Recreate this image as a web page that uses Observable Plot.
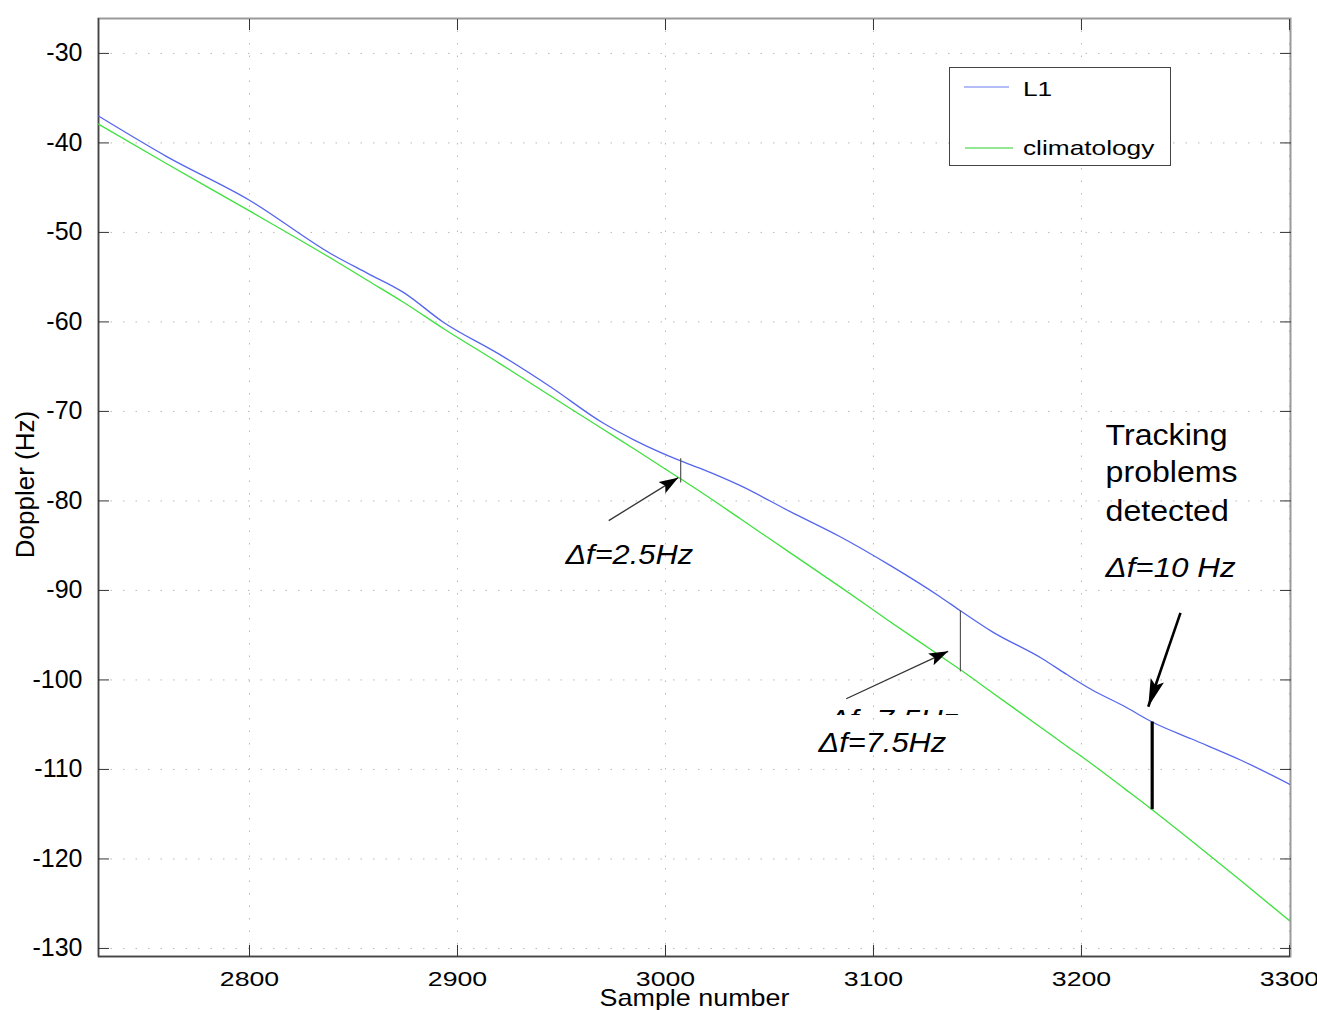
<!DOCTYPE html>
<html>
<head>
<meta charset="utf-8">
<script src="https://cdn.jsdelivr.net/npm/d3@7"></script>
<script src="https://cdn.jsdelivr.net/npm/@observablehq/plot@0.6"></script>
<style>
  body { margin: 0; background: #fff; font-family: "Liberation Sans", Arial, sans-serif; }
  #wrap { position: relative; width: 1317px; height: 1010px; overflow: hidden; }
  #legend { position: absolute; left: 949px; top: 67px; width: 220px; height: 97px; border: 1px solid #444; background: #fff; }
</style>
</head>
<body>
<div id="wrap"></div>
<script>
// ---- data ----
const samples = [2727.4, 2760, 2800, 2840, 2857, 2874, 2893, 2920, 2945, 2970, 2985, 3007, 3017, 3036, 3060, 3084, 3108, 3132, 3142, 3157, 3181, 3193, 3205, 3221, 3234, 3253, 3277, 3300.5];
const l1 = [-37.0, -41.5, -46.4, -52.5, -54.6, -56.7, -60.0, -63.6, -67.3, -71.3, -73.2, -75.5, -76.4, -78.3, -81.2, -84.0, -87.2, -90.7, -92.3, -94.6, -97.6, -99.4, -101.1, -103.0, -104.7, -106.6, -109.0, -111.7];
const climatology = [-37.9, -42.3, -47.6, -53.0, -55.4, -57.8, -60.7, -64.6, -68.3, -72.0, -74.2, -77.5, -79.0, -82.0, -85.8, -89.6, -93.5, -97.3, -98.9, -101.4, -105.4, -107.4, -109.4, -112.2, -114.5, -118.0, -122.5, -127.0];

const xTicks = [2800, 2900, 3000, 3100, 3200, 3300];
const yTicks = [-30, -40, -50, -60, -70, -80, -90, -100, -110, -120, -130];
const xDomain = [2727.4, 3300.5];
const yDomain = [-130.9, -26.1];

// annotations (data coordinates)
const diffX = [3007.3, 3141.8];
const diffTop = [-75.3, -92.3];
const diffBottom = [-78.0, -99.1];
const bigDiffX = [3234.0];
const bigDiffTop = [-104.7];
const bigDiffBottom = [-114.5];

const arrowFromX = [2972.7, 3086.9];
const arrowFromY = [-82.2, -102.1];
const arrowToX = [3006.1, 3135.9];
const arrowToY = [-77.4, -96.8];
const bigArrowFromX = [3247.6];
const bigArrowFromY = [-92.5];
const bigArrowToX = [3232.1];
const bigArrowToY = [-103.0];

const deltaLabels = ["Δf=2.5Hz", "Δf=7.5Hz"];
const deltaLabelX = [2951.9, 3073.6];
const deltaLabelY = [-87.0, -108.1];
const hiddenLabel = ["Δf=7.5Hz"];
const hiddenLabelX = [3078.4];
const hiddenLabelY = [-105.5];

const noteLines = ["Tracking", "problems", "detected"];
const noteX = [3211.6, 3211.6, 3211.6];
const noteY = [-73.8, -77.94, -82.27];
const noteDelta = ["Δf=10 Hz"];
const noteDeltaX = [3211.6];
const noteDeltaY = [-88.5];

// ---- build ----
const W = 1317, H = 1010;
const mL = 98, mR = 27, mT = 18, mB = 54;
const sx = Plot.scale({x: {domain: xDomain, range: [mL, W - mR]}});
const sy = Plot.scale({y: {domain: yDomain, range: [H - mB, mT]}});

const rows = [];
samples.forEach((s, i) => {
  rows.push({sample: s, doppler: l1[i], series: "L1"});
  rows.push({sample: s, doppler: climatology[i], series: "climatology"});
});

function rot(fx, fy, tx, ty) {
  const dx = sx.apply(tx) - sx.apply(fx);
  const dy = sy.apply(ty) - sy.apply(fy);
  return Math.atan2(dx, -dy) * 180 / Math.PI;
}
function head(L, Wd) {
  return {draw(ctx) {
    ctx.moveTo(0, 0);
    ctx.lineTo(Wd / 2, L);
    ctx.lineTo(0, L * 0.8);
    ctx.lineTo(-Wd / 2, L);
    ctx.closePath();
  }};
}
const idx2 = [0, 1];
const rotSmall = idx2.map(i => rot(arrowFromX[i], arrowFromY[i], arrowToX[i], arrowToY[i]));
const rotBig = [rot(bigArrowFromX[0], bigArrowFromY[0], bigArrowToX[0], bigArrowToY[0])];

const fontFamily = "'Liberation Sans', Arial, Helvetica, sans-serif";
// near-black tags used to find text groups after rendering
const C_XT = "#000001", C_SN = "#000002", C_DL = "#000003", C_HID = "#000004", C_NOTE = "#000005", C_ND = "#000006";

const chart = Plot.plot({
  width: W,
  height: H,
  marginLeft: mL, marginRight: mR, marginTop: mT, marginBottom: mB,
  x: {domain: xDomain},
  y: {domain: yDomain},
  style: {fontFamily, background: "#fff", color: "#000", overflow: "visible"},
  marks: [
    Plot.gridX(xTicks, {stroke: "#b8b8b8", strokeOpacity: 1, strokeDasharray: "1.5,11"}),
    Plot.gridY(yTicks, {stroke: "#b8b8b8", strokeOpacity: 1, strokeDasharray: "1.5,11"}),
    Plot.frame({stroke: "#9a9a9a", strokeWidth: 2}),
    Plot.ruleX([xDomain[0]], {stroke: "#444", strokeWidth: 1.5}),
    Plot.ruleY([yDomain[0]], {stroke: "#444", strokeWidth: 1.5}),
    // inward ticks on all sides
    Plot.axisY(yTicks, {anchor: "left", tickSize: -11, text: null, label: null, stroke: "#333"}),
    Plot.axisY(yTicks, {anchor: "right", tickSize: -11, text: null, label: null, stroke: "#333"}),
    Plot.axisX(xTicks, {anchor: "bottom", tickSize: -11, text: null, label: null, stroke: "#333"}),
    Plot.axisX(xTicks, {anchor: "top", tickSize: -11, text: null, label: null, stroke: "#333"}),
    // tick labels
    Plot.axisY(yTicks, {anchor: "left", tickSize: 0, tickPadding: 16, label: null, fontSize: 25, tickFormat: d => `${d}`, fill: "#000"}),
    Plot.axisX(xTicks, {anchor: "bottom", tickSize: 0, tickPadding: 15, label: null, fontSize: 21, tickFormat: d => `${d}`, fill: C_XT}),
    // axis titles
    Plot.text(["Sample number"], {frameAnchor: "bottom", textAnchor: "middle", lineAnchor: "bottom", dy: 49, fontSize: 24, fill: C_SN}),
    Plot.text(["Doppler (Hz)"], {frameAnchor: "left", textAnchor: "middle", lineAnchor: "middle", dx: -73, dy: -3, rotate: -90, fontSize: 26, fill: "#000"}),
    // series
    Plot.line(rows, {x: "sample", y: "doppler", z: "series",
      stroke: d => d.series === "L1" ? "#5566ee" : "#3fe03f",
      strokeWidth: 1.3, curve: "monotone-x", clip: true}),
    // difference markers
    Plot.ruleX(idx2, {x: i => diffX[i], y1: i => diffTop[i], y2: i => diffBottom[i], stroke: "#555", strokeWidth: 1.2}),
    Plot.ruleX([0], {x: i => bigDiffX[i], y1: i => bigDiffTop[i], y2: i => bigDiffBottom[i], stroke: "#000", strokeWidth: 3.2}),
    // arrows
    Plot.link(idx2, {x1: i => arrowFromX[i], y1: i => arrowFromY[i], x2: i => arrowToX[i], y2: i => arrowToY[i], stroke: "#333", strokeWidth: 1.3}),
    Plot.dot(idx2, {x: i => arrowToX[i], y: i => arrowToY[i], rotate: i => rotSmall[i], symbol: head(19, 13), r: 5, fill: "#000", stroke: null}),
    Plot.link([0], {x1: i => bigArrowFromX[i], y1: i => bigArrowFromY[i], x2: i => bigArrowToX[i], y2: i => bigArrowToY[i], stroke: "#000", strokeWidth: 2.6}),
    Plot.dot([0], {x: i => bigArrowToX[i], y: i => bigArrowToY[i], rotate: i => rotBig[i], symbol: head(28, 14), r: 5, fill: "#000", stroke: null}),
    // annotation texts
    Plot.text(idx2, {x: i => deltaLabelX[i], y: i => deltaLabelY[i], text: i => deltaLabels[i], textAnchor: "start", lineAnchor: "bottom", fontSize: 27, fontStyle: "italic", fill: C_DL}),
    Plot.text([0], {x: i => hiddenLabelX[i], y: i => hiddenLabelY[i], text: i => hiddenLabel[i], textAnchor: "start", lineAnchor: "bottom", fontSize: 27, fontStyle: "italic", fill: C_HID}),
    Plot.text([0, 1, 2], {x: i => noteX[i], y: i => noteY[i], text: i => noteLines[i], textAnchor: "start", lineAnchor: "bottom", fontSize: 30, fill: C_NOTE}),
    Plot.text([0], {x: i => noteDeltaX[i], y: i => noteDeltaY[i], text: i => noteDelta[i], textAnchor: "start", lineAnchor: "bottom", fontSize: 28, fontStyle: "italic", fill: C_ND})
  ]
});

const wrap = document.getElementById("wrap");
wrap.appendChild(chart);

const svg = d3.select(chart);
// clip the partly hidden label (only the tops of its glyphs show)
const defs = svg.insert("defs", ":first-child");
defs.append("clipPath").attr("id", "hidden-clip")
  .append("rect").attr("x", 800).attr("y", 690).attr("width", 200).attr("height", 24.5);
svg.selectAll(`g[fill="${C_HID}"]`).attr("clip-path", "url(#hidden-clip)");

// the reference's lettering is a little wider than Liberation Sans
function stretch(sel, k) {
  sel.each(function () {
    const w = this.getComputedTextLength();
    if (w > 0) {
      this.setAttribute("textLength", (w * k).toFixed(1));
      this.setAttribute("lengthAdjust", "spacingAndGlyphs");
    }
  });
}
stretch(svg.selectAll(`g[fill="${C_XT}"] text`), 1.27);
stretch(svg.selectAll(`g[fill="${C_SN}"] text`), 1.12);
stretch(svg.selectAll(`g[fill="${C_DL}"] text`), 1.14);
stretch(svg.selectAll(`g[fill="${C_HID}"] text`), 1.16);
stretch(svg.selectAll(`g[fill="${C_NOTE}"] text`), 1.07);
stretch(svg.selectAll(`g[fill="${C_ND}"] text`), 1.12);

// legend
const legend = document.createElement("div");
legend.id = "legend";
legend.innerHTML = `
<svg width="220" height="97" style="display:block;font-family:${fontFamily}">
  <line x1="14" x2="59" y1="19" y2="19" stroke="#9aa6f6" stroke-width="1.3"/>
  <text class="lg" x="73" y="28" font-size="21" fill="#000">L1</text>
  <line x1="15" x2="63" y1="80" y2="80" stroke="#6fe26f" stroke-width="1.3"/>
  <text class="lg" x="73" y="87" font-size="21" fill="#000">climatology</text>
</svg>`;
wrap.appendChild(legend);
stretch(d3.select(legend).selectAll("text.lg"), 1.25);
</script>
</body>
</html>
